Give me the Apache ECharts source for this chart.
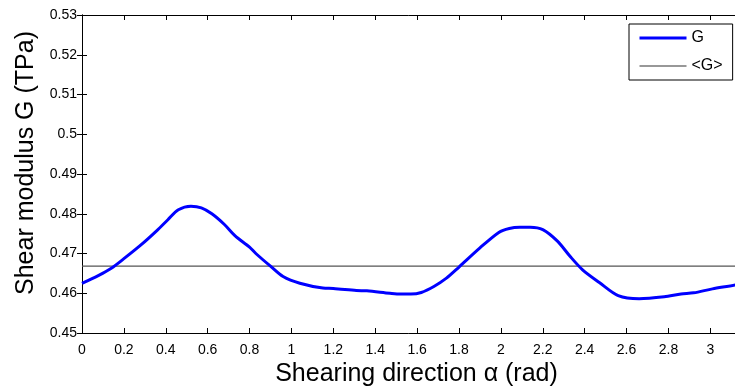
<!DOCTYPE html>
<html>
<head>
<meta charset="utf-8">
<script src="https://cdn.jsdelivr.net/npm/echarts@6/dist/echarts.min.js"></script>
<style>
  html, body { margin: 0; padding: 0; background: #fff; }
  #chart { width: 735px; height: 387px; }
</style>
</head>
<body>
<div id="chart"></div>
<script>
// Shearing direction alpha (rad)
const alpha = [0.00, 0.08, 0.14, 0.20, 0.28, 0.36, 0.41, 0.46, 0.52, 0.57, 0.62, 0.68, 0.73, 0.80,
  0.83, 0.90, 0.96, 1.04, 1.15, 1.20, 1.31, 1.36, 1.47, 1.52, 1.57, 1.62, 1.68, 1.74, 1.80,
  1.90, 1.99, 2.04, 2.09, 2.14, 2.20, 2.27, 2.33, 2.39, 2.47, 2.56, 2.66, 2.78, 2.86, 2.92,
  3.01, 3.12, 3.1416];
// Shear modulus G (TPa)
const shearG = [0.4625, 0.4645, 0.4663, 0.4687, 0.4721, 0.4759, 0.4785, 0.4810, 0.4819, 0.4815,
  0.4800, 0.4773, 0.4745, 0.4716, 0.4700, 0.4668, 0.4642, 0.4625, 0.4613, 0.4612, 0.4607,
  0.4606, 0.4600, 0.4598, 0.4598, 0.4602, 0.4617, 0.4638, 0.4666, 0.4714, 0.4753, 0.4763,
  0.4766, 0.4766, 0.4760, 0.4731, 0.4693, 0.4659, 0.4627, 0.4594, 0.4586, 0.4591, 0.4598,
  0.4601, 0.4611, 0.4621, 0.4625];
// Mean shear modulus <G>
const meanG = 0.4668;
const xRange = [0, Math.PI];
const yRange = [0.45, 0.53];

const seriesNames = ['G', '<G>'];

const font = '"Liberation Sans", Arial, Helvetica, sans-serif';
const chart = echarts.init(document.getElementById('chart'), null, { renderer: 'canvas' });

const frameAxis = {
  axisLine: { show: true, lineStyle: { color: '#000', width: 1 } },
  axisTick: { show: true, inside: true, length: 5, lineStyle: { color: '#000', width: 1 } },
  splitLine: { show: false }
};

chart.setOption({
  animation: false,
  backgroundColor: '#fff',
  grid: { left: 82, top: 15, width: 658, height: 318, containLabel: false, outerBoundsMode: 'none' },
  legend: {
    orient: 'vertical',
    left: 629,
    top: 24,
    data: [
      { name: seriesNames[0], lineStyle: { width: 3 } },
      { name: seriesNames[1], lineStyle: { width: 1.2, color: '#333' } }
    ],
    backgroundColor: '#fff',
    borderColor: '#000',
    borderWidth: 1,
    padding: [6, 10, 6, 9],
    itemWidth: 47,
    itemHeight: 12,
    itemGap: 12,
    itemStyle: { opacity: 0 },
    textStyle: { fontFamily: font, fontSize: 16, color: '#000' }
  },
  xAxis: [
    Object.assign({}, frameAxis, {
      type: 'value', min: xRange[0], max: xRange[1], interval: 0.2,
      position: 'bottom',
      name: 'Shearing direction \u03b1 (rad)',
      nameLocation: 'middle', nameGap: 24,
      nameTextStyle: { fontFamily: font, fontSize: 25, color: '#000', padding: [0, 0, 0, 11] },
      axisLabel: { show: true, showMaxLabel: false, margin: 10, fontFamily: font, fontSize: 14, color: '#000' }
    }),
    Object.assign({}, frameAxis, {
      type: 'value', min: xRange[0], max: xRange[1], interval: 0.2,
      position: 'top', axisLabel: { show: false }
    })
  ],
  yAxis: [
    Object.assign({}, frameAxis, {
      type: 'value', min: yRange[0], max: yRange[1], interval: 0.01,
      position: 'left',
      name: 'Shear modulus G (TPa)',
      nameLocation: 'middle', nameGap: 43, nameRotate: 90,
      nameTextStyle: { fontFamily: font, fontSize: 25, color: '#000', padding: [0, 0, 0, 22] },
      axisLabel: { show: true, margin: 5, fontFamily: font, fontSize: 14, color: '#000' }
    }),
    Object.assign({}, frameAxis, {
      type: 'value', min: yRange[0], max: yRange[1], interval: 0.01,
      position: 'right', axisLabel: { show: false }
    })
  ],
  series: [
    {
      name: seriesNames[0],
      type: 'line',
      data: alpha.map((a, i) => [a, shearG[i]]),
      showSymbol: false,
      symbol: 'none',
      smooth: 0.3,
      color: '#0000ff',
      lineStyle: { color: '#0000ff', width: 3 },
      z: 3
    },
    {
      name: seriesNames[1],
      type: 'line',
      data: [[xRange[0], meanG], [xRange[1], meanG]],
      showSymbol: false,
      symbol: 'none',
      color: '#555',
      lineStyle: { color: '#555', width: 1.2 },
      z: 2
    }
  ]
});
</script>
</body>
</html>
